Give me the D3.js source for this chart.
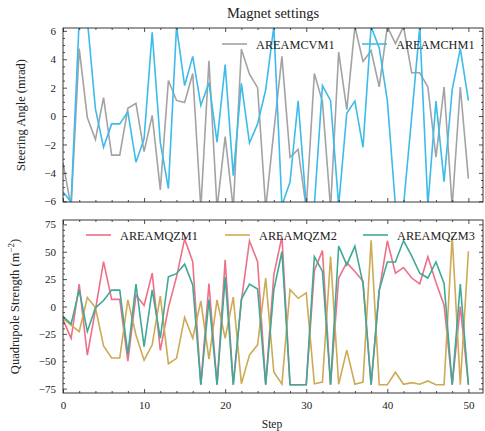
<!DOCTYPE html>
<html>
<head>
<meta charset="utf-8">
<script src="https://cdn.jsdelivr.net/npm/d3@7"></script>
<style>
  body { margin: 0; background: #fff; }
  svg text { font-family: "Liberation Serif", "DejaVu Serif", serif; fill: #222; }
</style>
</head>
<body>
<svg id="chart"></svg>
<script>
// ---- DATA ---- //
const steps = d3.range(0, 51);
const cvm1 = [-3.3, -6.4, 4.75, -0.1, -1.65, 1.3, -2.75, -2.75, 0.55, 0.9, -2.5, 0.05, -5.2, 2.5, 1.1, 0.95, 3.0, -6.5, 3.9, -6.5,
  -1.45, -6.5, 4.7, 2.95, 2.0, -6.5, -1.1, 4.2, -2.9, -2.35, -6.5, 3.0, 1.0, -6.5, 4.5, 0.45, 6.3, 3.85, 4.6, 2.05,
  6.3, 5.1, 6.3, 3.05, 3.05, 2.05, -2.9, 2.05, -6.4, 2.05, -4.4];
const chm1 = [-5.35, -6.05, 6.8, 6.8, 0.5, -2.2, -0.55, -0.55, 0.3, -3.25, -1.6, 5.9, -1.85, -5.1, 6.3, 2.15, 4.2, 0.75, 2.35, -1.83,
  3.62, -4.2, 2.3, -1.9, -0.55, 1.85, 6.3, -6.3, -4.65, 1.08, -6.3, -6.3, 2.15, 1.08, -6.3, 0.2, 1.05, -2.2, 6.3, 4.8,
  1.1, -6.3, -6.3, -0.1, 6.3, -6.3, 1.05, -4.62, 1.85, 4.75, 1.08];
const qzm1 = [-12, -29, 20.5, -44.5, -3, 41, 6.5, 6.5, -49.8, 10.5, 1, 30.5, -40, -1, 27, 61.7, 41, -71.5, 21, -71.5,
  42.6, -71.5, 5, 60, 41, -71.5, 29, 64, -71.5, -71.5, -71.5, 33, 51, -71.5, 26, 40, 32, 23, -71.5, 14,
  60, 30.5, 35.5, 26, 20.7, 45.5, 22, 1.2, -71.5, 0, -71.5];
const qzm2 = [-11, -17, -23, 8.3, -1, -36, -47, -47, 6, -26, -49, -35, 9.5, -52.3, -47.3, -10, -29, 5, -48, 6,
  -29, 8.5, -70.5, -44.3, -35, 26, -59.7, -71, 15.5, 7.5, 12.5, -70.5, -69, 45.7, -71, -39.8, -71, -69, 60.5, -71.5,
  -71.5, -60, -71, -69.5, -71, -68, -71.5, -71.5, 64.3, -71.5, 50.5];
const qzm3 = [-9, -16, 15.2, -22.8, -1.2, 5.5, 15, 15, -43.5, 20.5, -36.7, 15.2, -29, 27.2, 30, 38.7, 19.7, -71.5, 6.3, -71.5,
  26.8, -71.5, 6.8, 20.5, 16, -71.5, 15, 50, -71.5, -71.5, -71.5, 45.7, 32, -71.5, 55.2, 38, 55.2, 21, -71.5, 15,
  40.7, 40.7, 60.2, 46.3, 30.4, 26, 40.7, 21, -71.5, 20.5, -71.5];

const steerNames = ["AREAMCVM1", "AREAMCHM1"];
const quadNames = ["AREAMQZM1", "AREAMQZM2", "AREAMQZM3"];
const xTicks = [0, 10, 20, 30, 40, 50];
const steerTicks = [-6, -4, -2, 0, 2, 4, 6];
const quadTicks = [-75, -50, -25, 0, 25, 50, 75];

// ---- LAYOUT ---- //
const width = 485, height = 431;
const left = 63, right = 483;

const svg = d3.select("#chart")
  .attr("width", width)
  .attr("height", height);

const xScale = d3.scaleLinear()
  .domain([0, 51.8])
  .range([left, right]);

const fmt = d => d < 0 ? "\u2212" + Math.abs(d) : String(d);

function drawPanel(cfg) {
  const y = d3.scaleLinear().domain(cfg.domain).range([cfg.bottom, cfg.top]);
  const g = svg.append("g");

  // clip
  g.append("clipPath").attr("id", cfg.id)
    .append("rect")
    .attr("x", left).attr("y", cfg.top)
    .attr("width", right - left).attr("height", cfg.bottom - cfg.top);

  // lines
  const line = d3.line()
    .x((d, i) => xScale(steps[i]))
    .y(d => y(d));
  cfg.series.forEach((s, k) => {
    g.append("path")
      .attr("clip-path", "url(#" + cfg.id + ")")
      .attr("d", line(s))
      .attr("fill", "none")
      .attr("stroke", cfg.colors[k])
      .attr("stroke-width", 1.6)
      .attr("stroke-linejoin", "miter");
  });

  // axes (ticks pointing inward)
  const minorX = d3.range(0, 52, 2).filter(v => v % 10 !== 0);
  const minorY = d3.range(cfg.domain[0] - 1, cfg.domain[1] + 1, cfg.minorStep)
    .map(v => Math.round(v / cfg.minorStep) * cfg.minorStep)
    .filter(v => v >= cfg.domain[0] && v <= cfg.domain[1] && !cfg.ticks.includes(v));

  const addAxis = (axis, tr) => {
    const a = g.append("g").attr("transform", tr).call(axis);
    a.select(".domain").remove();
    a.selectAll("line").attr("stroke", "#222").attr("stroke-width", 0.8);
    return a;
  };

  const yl = addAxis(d3.axisLeft(y).tickValues(cfg.ticks).tickSizeInner(-4).tickSizeOuter(0).tickPadding(7).tickFormat(fmt),
    "translate(" + left + ",0)");
  yl.selectAll("text").attr("font-size", 11);
  addAxis(d3.axisLeft(y).tickValues(minorY).tickSizeInner(-2).tickSizeOuter(0).tickFormat(""), "translate(" + left + ",0)");
  addAxis(d3.axisRight(y).tickValues(cfg.ticks).tickSizeInner(-4).tickSizeOuter(0).tickFormat(""), "translate(" + right + ",0)");
  addAxis(d3.axisRight(y).tickValues(minorY).tickSizeInner(-2).tickSizeOuter(0).tickFormat(""), "translate(" + right + ",0)");

  const xb = addAxis(d3.axisBottom(xScale).tickValues(xTicks).tickSizeInner(-4).tickSizeOuter(0).tickPadding(8)
    .tickFormat(cfg.showX ? fmt : ""), "translate(0," + cfg.bottom + ")");
  xb.selectAll("text").attr("font-size", 11);
  addAxis(d3.axisBottom(xScale).tickValues(minorX).tickSizeInner(-2).tickSizeOuter(0).tickFormat(""), "translate(0," + cfg.bottom + ")");
  addAxis(d3.axisTop(xScale).tickValues(xTicks).tickSizeInner(-4).tickSizeOuter(0).tickFormat(""), "translate(0," + cfg.top + ")");
  addAxis(d3.axisTop(xScale).tickValues(minorX).tickSizeInner(-2).tickSizeOuter(0).tickFormat(""), "translate(0," + cfg.top + ")");

  // frame
  g.append("rect")
    .attr("x", left).attr("y", cfg.top)
    .attr("width", right - left).attr("height", cfg.bottom - cfg.top)
    .attr("fill", "none").attr("stroke", "#222").attr("stroke-width", 0.9);

  // legend
  cfg.names.forEach((n, k) => {
    const lx = cfg.legendX[k];
    g.append("line")
      .attr("x1", lx).attr("x2", lx + 25)
      .attr("y1", cfg.legendY).attr("y2", cfg.legendY)
      .attr("stroke", cfg.colors[k]).attr("stroke-width", 1.6);
    g.append("text")
      .attr("x", lx + 34).attr("y", cfg.legendY + 4.5)
      .attr("font-size", 12.3)
      .text(n);
  });

  // y label
  const yLab = g.append("text")
    .attr("transform", "translate(" + cfg.labelX + "," + ((cfg.top + cfg.bottom) / 2) + ") rotate(-90)")
    .attr("text-anchor", "middle")
    .attr("font-size", 12.5);
  cfg.label(yLab);
}

drawPanel({
  id: "clipTop", top: 28, bottom: 202, domain: [-6.05, 6.2],
  ticks: steerTicks, minorStep: 0.5, showX: false,
  series: [cvm1, chm1], names: steerNames,
  colors: ["#a3a3a3", "#3dbbea"],
  legendX: [222, 362], legendY: 44,
  labelX: 25,
  label: t => t.text("Steering Angle (mrad)")
});

drawPanel({
  id: "clipBot", top: 220, bottom: 393, domain: [-79, 79],
  ticks: quadTicks, minorStep: 5, showX: true,
  series: [qzm1, qzm2, qzm3], names: quadNames,
  colors: ["#ee7088", "#cdaa55", "#40a996"],
  legendX: [86, 225, 363], legendY: 235,
  labelX: 19,
  label: t => {
    t.append("tspan").text("Quadrupole Strength (m");
    t.append("tspan").attr("dy", -5).attr("font-size", 9).text("\u22122");
    t.append("tspan").attr("dy", 5).text(")");
  }
});

// title and x label
svg.append("text")
  .attr("x", 273).attr("y", 18)
  .attr("text-anchor", "middle")
  .attr("font-size", 14.5)
  .text("Magnet settings");

svg.append("text")
  .attr("x", 272).attr("y", 428)
  .attr("text-anchor", "middle")
  .attr("font-size", 11.5)
  .text("Step");
</script>
</body>
</html>
